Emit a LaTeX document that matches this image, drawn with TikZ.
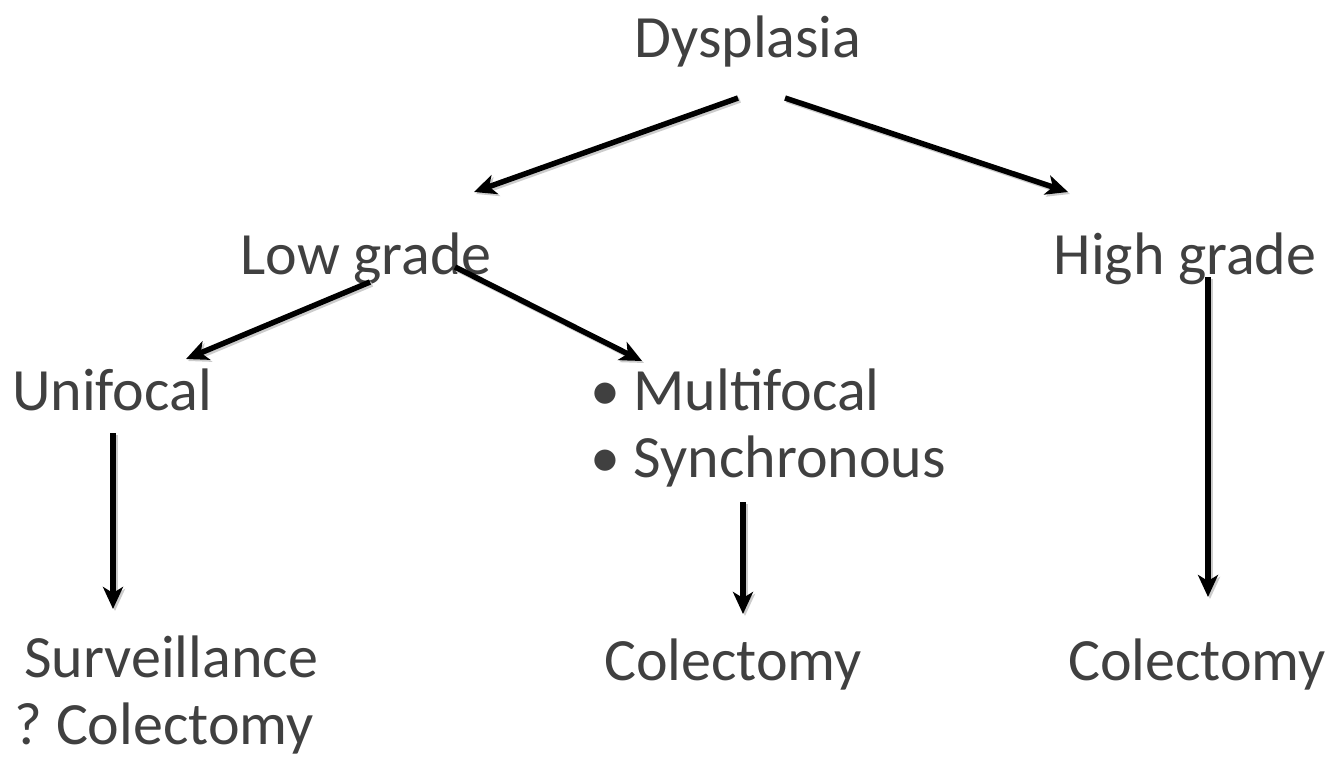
\documentclass[tikz,border=0pt]{standalone}
\usepackage{fontspec}
\setmainfont{Carlito}
\usetikzlibrary{arrows.meta}
\definecolor{txt}{HTML}{404040}
\tikzset{
  lbl/.style={text=txt, font=\fontsize{60}{67}\selectfont, inner sep=0pt, anchor=base},
  conn/.style={line width=5.5pt, -{Stealth[length=22pt,width=20pt,inset=6pt]},
    preaction={draw=black!20, line width=5.5pt, transform canvas={shift={(2pt,-2pt)}}}}
}
\begin{document}
\begin{tikzpicture}[x=1pt,y=-1pt]
\useasboundingbox (0,0) rectangle (1336,758);
\node[lbl] (dys) at (748,57) {Dysplasia};
\node[lbl] (low) at (366,274) {Low grade};
\node[lbl] (high) at (1185,274) {High grade};
\node[lbl] (uni) at (112,410) {Unifocal};
\node[lbl, anchor=base west, align=left] (multi) at (590,477) {• Multifocal\\• Synchronous};
\node[lbl, anchor=base west, align=left] (surv) at (14,744) {\hspace{10pt}Surveillance\\?\hspace{-4pt} Colectomy};
\node[lbl] (col1) at (733,680) {Colectomy};
\node[lbl] (col2) at (1197,680) {Colectomy};
\coordinate (a1s) at (738,98);  \coordinate (a1e) at (474,192);
\coordinate (a2s) at (785,98);  \coordinate (a2e) at (1068,192);
\coordinate (a3s) at (370,282); \coordinate (a3e) at (186,359);
\coordinate (a4s) at (455,267); \coordinate (a4e) at (642,361);
\coordinate (a5s) at (1208,277); \coordinate (a5e) at (1208,597);
\coordinate (a6s) at (113,433); \coordinate (a6e) at (113,609);
\coordinate (a7s) at (743,502); \coordinate (a7e) at (743,614);
\draw[conn] (a1s) -- (a1e);
\draw[conn] (a2s) -- (a2e);
\draw[conn] (a3s) -- (a3e);
\draw[conn] (a4s) -- (a4e);
\draw[conn] (a5s) -- (a5e);
\draw[conn] (a6s) -- (a6e);
\draw[conn] (a7s) -- (a7e);
\end{tikzpicture}
\end{document}
